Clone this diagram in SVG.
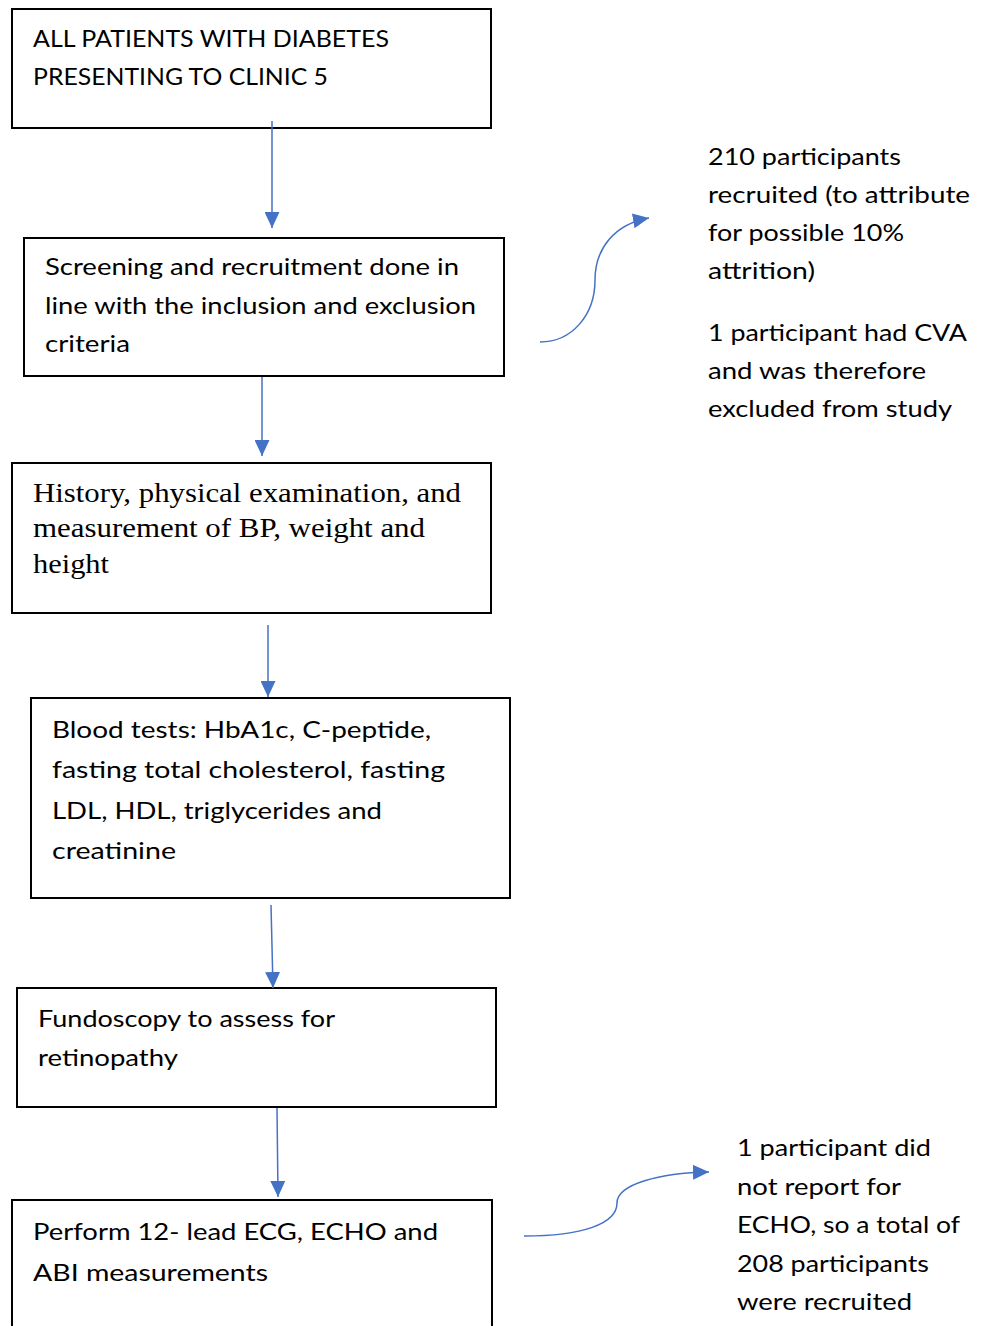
<svg xmlns="http://www.w3.org/2000/svg" width="990" height="1326" viewBox="0 0 990 1326">
<style>
.box{fill:#fff;stroke:#000;stroke-width:2}
.t{font-family:Lato,"Open Sans","Liberation Sans",sans-serif;font-size:24px;fill:#000}
.s{font-family:"Liberation Serif","Times New Roman",serif;font-size:28px;fill:#000}
.c{fill:none;stroke:#4472C4;stroke-width:1.5}
</style>
<defs>
<marker id="ah" markerWidth="16" markerHeight="15" refX="16" refY="7.5" orient="auto" markerUnits="userSpaceOnUse">
<path d="M0,0 L16,7.5 L0,15 Z" fill="#4472C4"/>
</marker>
</defs>
<rect width="990" height="1326" fill="#fff"/>
<g id="n1">
<rect class="box" x="12" y="9" width="479" height="119"/>
<text class="t" x="33" y="47" textLength="356" lengthAdjust="spacingAndGlyphs">ALL PATIENTS WITH DIABETES</text>
<text class="t" x="33" y="85" textLength="295" lengthAdjust="spacingAndGlyphs">PRESENTING TO CLINIC 5</text>
</g>
<g id="n2">
<rect class="box" x="24" y="238" width="480" height="138"/>
<text class="t" x="45" y="275" textLength="414" lengthAdjust="spacingAndGlyphs">Screening and recruitment done in</text>
<text class="t" x="45" y="314" textLength="431" lengthAdjust="spacingAndGlyphs">line with the inclusion and exclusion</text>
<text class="t" x="45" y="352" textLength="85" lengthAdjust="spacingAndGlyphs">criteria</text>
</g>
<g id="n3">
<rect class="box" x="12" y="463" width="479" height="150"/>
<text class="s" x="33" y="502" textLength="428" lengthAdjust="spacingAndGlyphs">History, physical examination, and</text>
<text class="s" x="33" y="537" textLength="392" lengthAdjust="spacingAndGlyphs">measurement of BP, weight and</text>
<text class="s" x="33" y="573" textLength="76" lengthAdjust="spacingAndGlyphs">height</text>
</g>
<g id="n4">
<rect class="box" x="31" y="698" width="479" height="200"/>
<text class="t" x="52" y="738" textLength="379" lengthAdjust="spacingAndGlyphs">Blood tests: HbA1c, C-peptide,</text>
<text class="t" x="52" y="778" textLength="393" lengthAdjust="spacingAndGlyphs">fasting total cholesterol, fasting</text>
<text class="t" x="52" y="819" textLength="330" lengthAdjust="spacingAndGlyphs">LDL, HDL, triglycerides and</text>
<text class="t" x="52" y="859" textLength="124" lengthAdjust="spacingAndGlyphs">creatinine</text>
</g>
<g id="n5">
<rect class="box" x="17" y="988" width="479" height="119"/>
<text class="t" x="38" y="1027" textLength="297" lengthAdjust="spacingAndGlyphs">Fundoscopy to assess for</text>
<text class="t" x="38" y="1066" textLength="140" lengthAdjust="spacingAndGlyphs">retinopathy</text>
</g>
<g id="n6">
<rect class="box" x="12" y="1200" width="480" height="140"/>
<text class="t" x="33" y="1240" textLength="405" lengthAdjust="spacingAndGlyphs">Perform 12- lead ECG, ECHO and</text>
<text class="t" x="33" y="1281" textLength="235" lengthAdjust="spacingAndGlyphs">ABI measurements</text>
</g>
<g id="note1">
<text class="t" x="708" y="165" textLength="193" lengthAdjust="spacingAndGlyphs">210 participants</text>
<text class="t" x="708" y="203" textLength="262" lengthAdjust="spacingAndGlyphs">recruited (to attribute</text>
<text class="t" x="708" y="241" textLength="196" lengthAdjust="spacingAndGlyphs">for possible 10%</text>
<text class="t" x="708" y="279" textLength="107" lengthAdjust="spacingAndGlyphs">attrition)</text>
<text class="t" x="708" y="341" textLength="259" lengthAdjust="spacingAndGlyphs">1 participant had CVA</text>
<text class="t" x="708" y="379" textLength="218" lengthAdjust="spacingAndGlyphs">and was therefore</text>
<text class="t" x="708" y="417" textLength="244" lengthAdjust="spacingAndGlyphs">excluded from study</text>
</g>
<g id="note2">
<text class="t" x="737" y="1156" textLength="194" lengthAdjust="spacingAndGlyphs">1 participant did</text>
<text class="t" x="737" y="1195" textLength="164" lengthAdjust="spacingAndGlyphs">not report for</text>
<text class="t" x="737" y="1233" textLength="223" lengthAdjust="spacingAndGlyphs">ECHO, so a total of</text>
<text class="t" x="737" y="1272" textLength="192" lengthAdjust="spacingAndGlyphs">208 participants</text>
<text class="t" x="737" y="1310" textLength="175" lengthAdjust="spacingAndGlyphs">were recruited</text>
</g>
<g id="connectors">
<line class="c" x1="272" y1="121" x2="272" y2="228" marker-end="url(#ah)"/>
<line class="c" x1="262" y1="377" x2="262" y2="456" marker-end="url(#ah)"/>
<line class="c" x1="268" y1="625" x2="268" y2="697" marker-end="url(#ah)"/>
<line class="c" x1="271" y1="905" x2="273" y2="988" marker-end="url(#ah)"/>
<line class="c" x1="277" y1="1108" x2="278" y2="1197" marker-end="url(#ah)"/>
<path class="c" d="M540,342 C572,342 595,315 595,280 C595,248 615,224 649,218" marker-end="url(#ah)"/>
<path class="c" d="M524,1236 C582,1236 617,1224 617,1203 C617,1184 660,1173 709,1172" marker-end="url(#ah)"/>
</g>
</svg>
